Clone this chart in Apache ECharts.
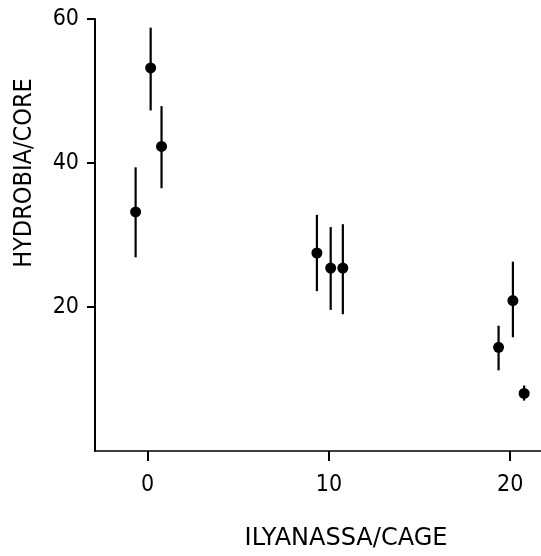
<!DOCTYPE html>
<html>
<head>
<meta charset="utf-8">
<script src="https://cdn.jsdelivr.net/npm/echarts@6/dist/echarts.min.js"></script>
<style>html,body{margin:0;padding:0;background:#fff;}#c{width:541px;height:556px;}</style>
</head>
<body>
<div id="c"></div>
<script>
var xValues = [-0.66, 0.17, 0.77, 9.34, 10.1, 10.77, 19.36, 20.15, 20.77];
var yValues = [33.2, 53.2, 42.3, 27.5, 25.4, 25.4, 14.4, 20.9, 8.0];
var yHigh   = [39.4, 58.8, 47.9, 32.8, 31.1, 31.5, 17.4, 26.3, 9.1];
var yLow    = [26.9, 47.3, 36.5, 22.2, 19.6, 19.0, 11.2, 15.8, 7.0];
var xTicks = [0, 10, 20];
var yTicks = [20, 40, 60];

var points = xValues.map(function (x, i) { return [x, yValues[i]]; });
var bars = xValues.map(function (x, i) { return [x, yLow[i], yHigh[i]]; });

var chart = echarts.init(document.getElementById('c'));
chart.setOption({
  animation: false,
  backgroundColor: '#fff',
  grid: { left: 95, right: 0, top: 19, bottom: 96, containLabel: false },
  xAxis: {
    type: 'value', min: -2.9, max: 21.7,
    name: 'ILYANASSA/CAGE', nameLocation: 'middle', nameGap: 76,
    nameTextStyle: { fontFamily: 'DejaVu Sans', fontSize: 24, color: '#000', padding: [0, 0, 0, 56] },
    axisLine: { show: true, onZero: false, lineStyle: { color: '#000', width: 1.5 } },
    axisTick: { show: true, inside: false, length: 10, lineStyle: { color: '#000', width: 2 }, customValues: xTicks },
    axisLabel: { margin: 23, fontFamily: 'DejaVu Sans Condensed', fontSize: 23, color: '#000', customValues: xTicks },
    splitLine: { show: false }
  },
  yAxis: {
    type: 'value', min: 0, max: 60,
    name: 'HYDROBIA/CORE', nameLocation: 'middle', nameGap: 58, nameRotate: 90,
    nameTextStyle: { fontFamily: 'DejaVu Sans Condensed', fontSize: 25, color: '#000', padding: [0, 0, 0, 124] },
    axisLine: { show: true, onZero: false, lineStyle: { color: '#000', width: 2 } },
    axisTick: { show: true, inside: false, length: 8, lineStyle: { color: '#000', width: 2 }, customValues: yTicks },
    axisLabel: { margin: 16, fontFamily: 'DejaVu Sans Condensed', fontSize: 23, color: '#000', padding: [7, 0, 0, 0], customValues: yTicks },
    splitLine: { show: false }
  },
  series: [
    {
      type: 'custom',
      data: bars,
      renderItem: function (params, api) {
        var lo = api.coord([api.value(0), api.value(1)]);
        var hi = api.coord([api.value(0), api.value(2)]);
        return {
          type: 'line',
          shape: { x1: lo[0], y1: lo[1], x2: hi[0], y2: hi[1] },
          style: { stroke: '#000', lineWidth: 2.2 }
        };
      },
      z: 2
    },
    {
      type: 'scatter',
      data: points,
      symbol: 'circle',
      symbolSize: 11,
      itemStyle: { color: '#000', opacity: 1 },
      z: 3
    }
  ]
});
</script>
</body>
</html>
